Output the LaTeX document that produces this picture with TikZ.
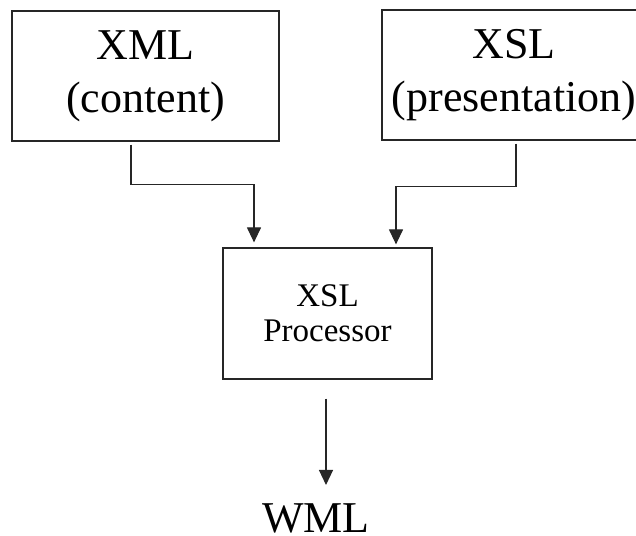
\documentclass[tikz,border=0pt]{standalone}
\usepackage{fontspec}
\setmainfont{Liberation Serif}
\usetikzlibrary{arrows.meta}

\tikzset{
  box/.style={draw=black!85, line width=1.2pt, inner sep=0pt, align=center},
  bigtext/.style={font=\fontsize{44}{53}\selectfont},
  midtext/.style={font=\fontsize{33}{35}\selectfont},
  arr/.style={draw=black!85, line width=1.2pt,
    -{Triangle[width=14pt,length=15pt]}},
}

\begin{document}
\begin{tikzpicture}[x=1pt,y=1pt]
  \useasboundingbox (0,0) rectangle (636,535);
  \clip (0,0) rectangle (636,535);

  % source documents
  \node[box, bigtext, minimum width=267pt, minimum height=130pt]
    (xml) at (145.5,459) {XML\\(content)};
  \node[box, bigtext, minimum width=264pt, minimum height=130pt]
    (xsl) at (514,460) {XSL\\(presentation)};

  % processor
  \node[box, midtext, minimum width=209pt, minimum height=131pt]
    (proc) at (327.5,221.5) {XSL\\Processor};

  % output
  \node[bigtext, inner sep=0pt, anchor=base] (wml) at (316,3) {WML};

  % connector end points
  \coordinate (xmlout) at ([xshift=-14.5pt,yshift=-3pt]xml.south);
  \coordinate (xslout) at ([xshift=2pt,yshift=-3pt]xsl.south);
  \coordinate (procinA) at ([xshift=-73.5pt,yshift=5pt]proc.north);
  \coordinate (procinB) at ([xshift=68.5pt,yshift=3pt]proc.north);
  \coordinate (procout) at ([xshift=-1.5pt,yshift=-19pt]proc.south);
  \coordinate (wmlin) at ([yshift=18pt]wml.north);

  % connectors
  \draw[arr] (xmlout) -- ++(0,-40) -| (procinA);
  \draw[arr] (xslout) -- ++(0,-43) -| (procinB);
  \draw[arr] (procout) -- (procout |- wmlin);
\end{tikzpicture}
\end{document}
